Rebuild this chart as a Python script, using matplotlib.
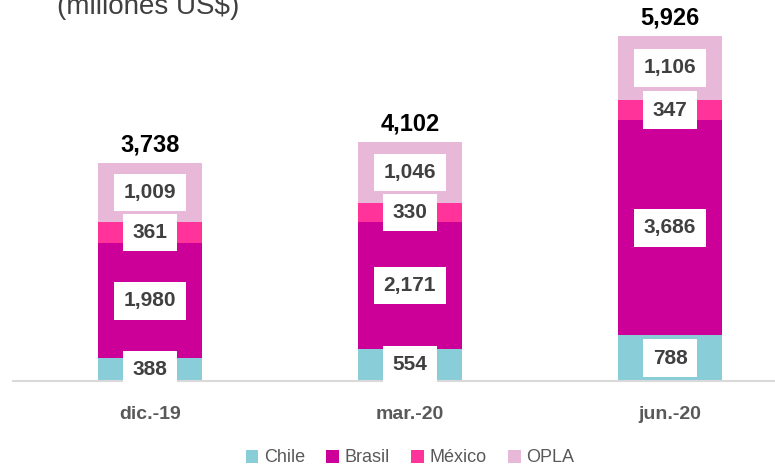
import matplotlib.pyplot as plt
import numpy as np

fechas = ['dic.-19', 'mar.-20', 'jun.-20']
chile = [388, 554, 788]
brasil = [1980, 2171, 3686]
mexico = [361, 330, 347]
opla = [1009, 1046, 1106]
totales = [3738, 4102, 5926]

series = ['Chile', 'Brasil', 'México', 'OPLA']
colores = ['#88CDD8', '#CC0099', '#FF3399', '#E8B8D9']

plt.rcParams['font.family'] = ['Liberation Sans', 'DejaVu Sans']

fig = plt.figure(figsize=(7.75, 4.68), dpi=100)
ax = fig.add_axes([13 / 775, 1 - 381 / 468, 1 - 13 / 775, 381 / 468])

x = np.arange(len(fechas))
base = np.zeros(len(fechas))
for nombre, vals, col in zip(series, [chile, brasil, mexico, opla], colores):
    ax.bar(x, vals, width=0.4, bottom=base, color=col, label=nombre)
    for xi, b, v in zip(x, base, vals):
        ax.text(xi, b + v / 2, f'{v:,}', ha='center', va='center',
                fontsize=15, fontweight='bold', color='#404040',
                bbox=dict(boxstyle='square,pad=0.45', fc='white', ec='none'))
    base += np.array(vals)

for xi, t in zip(x, totales):
    ax.text(xi, t + 110, f'{t:,}', ha='center', va='bottom',
            fontsize=17, fontweight='bold', color='black')

ax.set_xlim(-137 / 260, (775 - 150) / 260)
ax.set_ylim(0, 381 / 0.05829)
ax.set_yticks([])
ax.set_xticks(x)
ax.set_xticklabels(fechas, fontsize=14, fontweight='bold', color='#595959')
ax.tick_params(axis='x', length=0, pad=18)
for s in ['top', 'right', 'left']:
    ax.spines[s].set_visible(False)
ax.spines['bottom'].set_color('#D9D9D9')
ax.spines['bottom'].set_linewidth(1.5)

# titulo cortado arriba, como en la imagen original
fig.text(57 / 775, 1 - 14 / 468, '(millones US$)', fontsize=20, color='#404040',
         ha='left', va='baseline')

fig.legend(loc='center', bbox_to_anchor=(410 / 775, 1 - 458 / 468), ncol=4,
           frameon=False, handlelength=0.7, handleheight=0.7, handletextpad=0.3,
           columnspacing=1.2, prop={'size': 13})
for t in fig.legends[0].get_texts():
    t.set_color('#595959')

fig.savefig('out.png', dpi=100)
